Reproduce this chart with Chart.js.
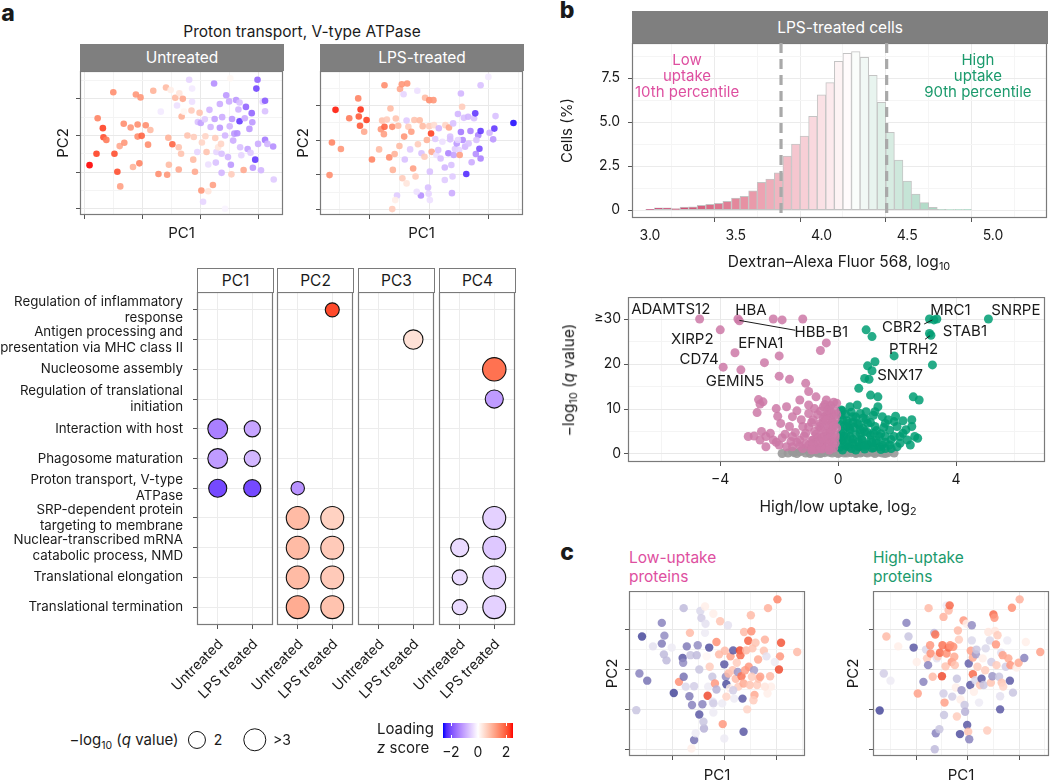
<!DOCTYPE html>
<html>
<head>
<meta charset="utf-8">
<title>Figure</title>
<script src="https://cdn.jsdelivr.net/npm/chart.js@4.4.1/dist/chart.umd.min.js"></script>
<style>
html,body{margin:0;padding:0;background:#fff;}
#page{position:relative;width:1050px;height:780px;overflow:hidden;font-family:Inter,"Noto Sans","DejaVu Sans",sans-serif;color:#1a1a1a;}
#page canvas{position:absolute;}
.t{position:absolute;transform:translate(-50%,-50%);white-space:nowrap;font-size:15px;line-height:1.15;}
.tl{position:absolute;transform:translate(0,-50%);white-space:nowrap;font-size:15px;line-height:1.15;}
.strip{position:absolute;display:flex;align-items:center;justify-content:center;font-size:15.5px;box-sizing:border-box;}
.grey{background:#7f7f7f;color:#fff;}
.white{background:#fff;color:#1a1a1a;border:1px solid #7a7a7a;}
.lab{position:absolute;font-weight:800;font-size:23px;transform:translate(-50%,-50%);}
sub{font-size:70%;vertical-align:-0.3em;line-height:0;}
.circ{position:absolute;border:1.2px solid #111;border-radius:50%;box-sizing:border-box;transform:translate(-50%,-50%);}
</style>
</head>
<body>
<div id="page"></div>
<script>
// ===================== DATA =====================
// Panel a (top): PCA of proteins, coloured by loading z score
const pcaUntreatedPC1 = [-9.2,-8.0,-7.8,-6.9,-6.8,-6.3,-5.1,-4.9,-4.4,-3.9,-4.0,-3.3,-3.2,-2.1,-1.7,-1.2,-0.9,-0.9,-0.4,-0.6,-0.2,0.5,0.9,1.3,1.8,2.7,3.1,4.0,4.2,4.4,4.5,4.8,5.1,5.6,5.9,6.2,6.3,6.7,6.9,6.6,6.2,7.1,7.7,8.0,8.5,8.5,8.4,8.8,8.7,9.0,9.5,9.8,10.0,10.2,9.4,10.1,10.4,10.7,10.8,11.0,11.3,11.3,11.5,11.7,12.1,12.3,12.4,12.5,12.6,12.7,13.0,13.3,13.3,13.5,13.6,13.7,14.2,14.4,14.7,14.9,15.0,15.1,15.2,15.3,15.4,15.6,15.8,16.1,16.3,16.5,16.7,16.8,17.0,17.4,17.6,17.8,18.1,18.4,18.6,18.8,18.9,19.0,19.4,19.6,19.8,19.9,20.4,20.7,21.1,21.1,21.1,21.5,16.7,22.5,22.6,14.2,13.6];
const pcaUntreatedPC2 = [-8.1,-5.0,4.7,2.0,-0.5,-1.2,11.8,-5.0,-9.9,-13.9,-2.9,3.2,-2.0,2.2,-8.6,11.2,3.0,-0.3,10.4,-7.6,-0.1,2.8,-2.5,1.5,12.2,-10.5,6.5,13.1,-10.7,-0.6,-8.0,12.4,-2.4,10.3,8.2,-3.2,11.5,5.2,10.0,-5.0,-9.3,6.5,0.0,15.2,12.8,9.2,6.8,-0.4,-6.6,-9.9,3.7,6.2,3.4,-1.9,-4.5,-15.0,-18.1,4.4,-0.2,-4.5,-7.9,-15.2,7.0,2.3,-13.5,14.2,4.5,-0.7,-7.4,-4.5,-3.2,8.6,2.1,-2.3,-10.2,5.0,0.0,11.0,-5.9,9.3,2.5,15.6,-8.0,-10.6,4.5,-1.4,0.5,9.7,0.6,7.1,3.9,-3.2,-5.4,-9.4,4.7,7.8,-3.7,1.8,-4.7,6.1,3.6,-8.8,-6.6,12.8,15.2,-2.3,-9.5,9.2,9.5,6.6,-1.2,-2.3,9.0,-3.0,-12.0,-20.0,-5.0];
const pcaUntreatedZ = [2.3,2.0,1.4,2.0,1.9,1.5,1.3,1.9,1.9,1.1,1.0,1.3,1.2,1.2,0.9,1.2,1.3,1.3,1.2,1.4,1.7,1.3,1.3,0.8,0.9,1.3,-0.2,0.8,1.2,0.9,0.8,0.2,1.7,0.8,-0.3,0.7,0.3,0.9,1.0,0.7,1.0,0.1,0.7,-0.4,-0.2,-0.3,0.6,0.6,0.8,1.0,-0.6,0.7,-0.9,0.5,-0.4,1.2,-0.4,-0.5,0.5,0.7,-0.3,0.3,-0.7,-0.7,1.1,-1.1,-0.9,0.6,-0.6,-0.4,0.3,-0.8,-1.0,0.5,-0.7,-0.8,-0.7,-1.0,-0.7,-0.8,-0.7,0.1,-1.0,0.6,-1.0,-0.8,-1.0,-1.0,-1.1,-0.7,-1.9,-0.6,-0.4,1.0,-0.8,-1.5,-0.9,-1.0,-0.5,-1.5,-1.0,-1.0,-1.9,-1.8,-1.5,-0.8,-0.7,-0.4,-1.6,-0.6,-1.3,-0.7,-0.6,-1.1,-0.5,-0.1,-0.6];

const pcaLpsPC1 = [-16.7,-16.3,-15.7,-14.8,-13.4,-11.9,-11.8,-11.5,-11.6,-10.9,-10.5,-9.6,-8.4,-8.1,-7.9,-7.6,-7.5,-7.5,-7.1,-6.7,-6.5,-6.2,-6.1,-5.8,-5.6,-5.4,-5.2,-5.0,-4.9,-4.6,-4.5,-4.3,-4.2,-4.1,-3.8,-3.7,-3.8,-3.5,-3.2,-3.0,-2.7,-2.5,-2.3,-2.0,-1.9,-1.6,-1.4,-1.3,-1.1,-0.8,-0.7,-0.4,-0.2,-0.1,0.0,0.0,0.1,0.3,0.4,0.7,0.8,1.0,1.2,1.6,1.9,2.2,2.6,2.7,3.2,3.3,3.5,3.7,3.8,4.0,4.1,4.3,4.6,4.8,5.0,5.1,5.3,5.3,5.6,5.5,5.8,6.0,6.2,6.5,6.6,6.9,7.1,7.5,7.7,7.8,8.2,8.4,8.6,8.6,8.6,9.9,10.1,10.7,10.9,11.1,14.1,7.9,3.9,2.6,1.5,4.8,3.5,0.1,-2.1,-6.2,-5.7];
const pcaLpsPC2 = [-10.1,-0.7,8.7,-2.6,6.3,12.0,6.8,8.8,4.1,2.4,5.8,-5.6,-2.7,3.1,5.6,1.7,15.8,3.8,5.9,-5.0,9.1,3.8,-8.6,-4.0,6.2,-16.0,4.1,-1.7,14.7,16.1,-11.0,13.2,1.0,-5.6,5.6,16.3,-12.5,3.8,-2.7,2.4,-8.2,5.8,-10.5,14.2,-1.2,5.7,-16.0,-3.8,4.0,-4.8,12.2,0.0,-13.7,-15.5,11.5,4.0,-9.1,1.9,-3.4,11.5,4.3,0.3,-4.3,3.4,-5.3,-0.5,-7.9,4.3,-3.8,3.6,0.2,-7.2,-15.3,4.8,-4.3,-2.6,-1.0,7.5,-2.9,-4.3,2.3,13.4,0.0,9.6,6.4,-1.9,-9.8,6.7,-1.0,2.6,-6.4,6.3,7.7,-4.0,1.4,-2.5,15.8,2.6,-5.3,18.2,2.1,0.2,3.3,6.9,4.9,0.0,-10.5,-11.5,-2.9,0.0,1.0,-17.3,-14.9,-19.9,-17.3];
const pcaLpsZ = [1.3,1.4,2.2,1.2,1.5,1.4,1.8,2.1,1.8,1.0,2.0,1.4,0.8,1.2,0.7,1.1,1.3,1.7,0.6,1.3,0.8,1.3,0.9,0.9,0.7,-0.5,0.8,0.8,1.0,1.2,0.6,-0.4,1.2,-0.6,-0.5,1.2,0.3,0.6,-0.5,1.1,1.1,0.7,0.6,-0.3,0.6,0.8,-1.1,-0.6,0.8,0.6,0.8,0.9,-0.6,-0.4,1.3,0.6,-0.6,2.0,1.0,1.2,0.4,-0.5,-0.3,-0.7,-0.6,-0.3,-0.7,0.5,-1.2,1.0,-0.6,-0.6,-0.8,-0.6,-0.9,-0.5,-1.0,-0.7,-0.4,1.1,-1.3,-0.7,-1.1,0.6,-0.6,-0.7,-2.0,-0.7,-0.6,-1.2,-0.8,-0.6,-1.9,-1.1,-1.2,-1.7,-0.6,-1.9,-1.2,-0.2,-0.7,-1.0,-1.9,-0.6,-2.2,-0.6,-0.5,-0.5,-0.6,-0.4,-0.6,-0.3,-0.3,0.6,0.2];

// Panel a (bottom): GO-term enrichment per principal component
const pcFacets = ['PC1','PC2','PC3','PC4'];
const conditionLabels = ['Untreated','LPS treated'];
const goTermLabels = [
  ['Regulation of inflammatory','response'],
  ['Antigen processing and','presentation via MHC class II'],
  'Nucleosome assembly',
  ['Regulation of translational','initiation'],
  'Interaction with host',
  'Phagosome maturation',
  ['Proton transport, V-type','ATPase'],
  ['SRP-dependent protein','targeting to membrane'],
  ['Nuclear-transcribed mRNA','catabolic process, NMD'],
  'Translational elongation',
  'Translational termination'
];
const enrichFacet = [0,0,0,0,0,0, 1,1,1,1,1,1,1,1,1,1, 2, 3,3,3,3,3,3,3,3,3];
const enrichTerm  = [4,4,5,5,6,6, 0,6,7,7,8,8,9,9,10,10, 1, 2,3,7,8,8,9,9,10,10];
const enrichCond  = [0,1,0,1,0,1, 1,0,0,1,0,1,0,1,0,1, 1, 1,1,1,0,1,0,1,0,1];
const enrichLogQ  = [2.4,1.6,2.4,1.6,2.0,1.8, 1.2,1.1,3.2,3.2,3.2,3.2,3.2,3.2,3.2,3.2, 2.3, 3.4,2.0,3.2,2.0,3.2,1.4,3.2,1.4,3.2];
const enrichZ     = [-1.4,-1.0,-1.1,-0.8,-2.0,-2.0, 2.2,-1.2,0.9,0.6,0.9,0.7,0.9,0.7,1.1,0.8, 0.4, 1.8,-1.1,-0.5,-0.4,-0.6,-0.4,-0.5,-0.4,-0.5];

// Panel b (top): histogram of dextran uptake, LPS-treated cells
const histBinCenters = [3.00,3.05,3.10,3.15,3.20,3.25,3.30,3.35,3.40,3.45,3.50,3.55,3.60,3.65,3.70,3.75,3.80,3.85,3.90,3.95,4.00,4.05,4.10,4.15,4.20,4.25,4.30,4.35,4.40,4.45,4.50,4.55,4.60,4.65,4.70,4.75,4.80,4.85];
const histCellsPct   = [0.04,0.13,0.13,0.08,0.17,0.19,0.27,0.32,0.38,0.49,0.68,0.78,1.10,1.57,1.76,2.12,3.07,3.75,4.20,5.32,6.55,7.24,8.45,8.90,9.00,8.67,7.65,6.12,4.41,2.84,1.65,0.91,0.42,0.15,0.04,0.02,0.02,0.02];
const lowUptakeCutoff = 3.764;
const highUptakeCutoff = 4.38;

// Panel b (bottom): volcano plot
const volcanoLowX = [-4.7,-4.0,-3.4,-3.35,-3.5,-3.9,-3.3,-2.5,-2.0,-2.2,-1.9,-1.2,-0.4,-0.6,-2.0,-1.65,-1.1,-1.0,-2.7,-2.55,-2.65,-2.1,-1.75,-1.4,-1.0,-0.75,-0.4,-0.05,-2.75,-2.6,-2.85,-3.05,-2.45,-2.2,-2.0,-1.55,-1.2,-1.65,-1.95,-0.85,-0.45,-0.15,-0.3,-0.65,-1.1,-1.3,-0.85,-0.5,-0.3,-0.1,-0.4,-0.75,-1.0,-1.55,-1.75,-2.45,-2.65,-0.25,-0.35,-0.25,-0.55,-0.85,-2.05,-1.55,-1.3,-1.0,-0.5,-0.8,-1.25,-0.3,-0.2,-0.4,-0.1,-0.5,-0.3,-0.6,-0.2,-0.8,-0.4,-0.1,-0.7,-0.3,-0.9,-0.5,-0.2,-1.1,-0.6,-0.35,-0.9,-0.15,-1.2,-0.55,-0.75,-0.15,-0.25,-0.45,-0.6,-0.35,-0.1,-0.7,-0.5,-0.2,-0.9,-0.6,-0.4,-1.0,-0.15,-0.5,-0.75,-1.15,-0.25,-0.6,-1.4,-0.4,-0.85,-0.1,-0.65,-1.6,-1.9,-2.3,-2.1,-1.45,-1.8,-0.3,-0.9,-1.3,-0.05,-0.05];
const volcanoLowY = [30,27.6,30,29.6,22.5,19.3,18.7,20.3,21.8,30,29.8,30,24.7,23.0,17.3,16.6,15.7,13.9,12.1,11.6,11.1,10.1,10.5,9.6,9.0,12.7,12.0,11.3,9.2,5.0,4.0,3.9,3.9,3.1,2.0,3.9,6.1,6.1,6.8,7.6,8.3,6.8,9.4,6.1,4.6,3.1,3.1,3.9,4.6,2.4,2.0,1.6,2.0,1.6,1.6,1.6,3.1,8.3,6.1,3.1,1.3,1.3,8.4,8.3,12.0,10.9,10.5,10.1,7.6,10.2,9.0,8.5,7.8,7.2,6.5,5.8,5.5,5.0,4.6,4.2,3.8,3.4,3.0,2.8,2.4,2.2,1.9,1.6,1.5,1.3,1.2,1.1,1.0,11.5,10.8,11.0,9.5,9.8,9.5,8.8,8.0,7.3,7.0,6.8,7.5,6.0,6.2,5.2,4.4,4.0,4.8,3.5,2.6,3.2,2.4,3.6,2.6,2.8,3.6,4.6,2.6,4.8,4.4,0.9,0.9,1.8,5.8,8.8];
const volcanoHighX = [5.1,3.1,3.25,3.35,3.15,3.1,3.2,1.9,0.95,1.15,1.25,1.0,1.15,0.9,1.05,0.7,1.1,1.35,2.55,2.75,2.5,2.6,2.7,1.95,1.7,1.35,1.25,0.15,0.4,0.65,0.75,0.5,0.95,1.5,1.6,1.75,2.0,2.1,2.2,2.35,1.4,1.2,0.75,0.4,0.15,0.5,0.95,1.3,1.75,2.0,0.3,0.65,0.85,1.25,1.6,0.15,1.1,1.4,1.9,0.1,0.35,0.8,1.15,2.45,2.5,1.9,0.4,0.7,1.0,0.1,0.3,0.5,0.2,0.7,0.4,0.9,0.15,0.6,1.1,0.3,0.8,1.3,0.1,0.5,1.0,1.5,0.25,0.7,1.2,0.45,0.9,1.6,0.05,0.1,0.25,0.45,0.6,0.85,1.1,0.35,0.55,0.75,1.0,1.3,1.45,0.2,0.5,0.7,1.15,1.6,1.8,2.1,0.3,0.9,1.45,1.8,0.15,0.6,2.3,1.55,0.95,1.2,2.2,0.05,0.05];
const volcanoHighY = [30,30,29.8,30,26.4,26.8,19.8,21.8,27.6,26.1,20.5,19.6,18.5,16.8,16.6,14.6,13.1,12.7,12.7,12.0,7.6,3.9,3.5,8.4,7.6,10.5,9.4,9.6,10.5,10.9,9.0,8.3,7.6,8.3,6.8,5.3,6.1,3.9,4.6,3.1,3.9,4.6,4.6,3.9,3.1,2.4,2.0,2.4,2.0,1.6,6.1,6.8,5.7,6.1,3.9,7.6,3.1,1.6,3.9,4.6,1.6,3.1,1.3,2.0,6.1,7.2,5.3,1.6,6.8,8.6,7.4,7.0,6.2,6.5,5.6,5.0,5.0,4.3,4.2,3.6,3.4,3.0,2.8,2.5,2.2,2.0,1.8,1.6,1.4,1.2,1.1,1.2,1.5,9.8,8.9,9.3,8.2,8.0,7.0,6.8,5.9,5.4,4.8,5.2,4.5,4.0,3.3,2.7,2.6,2.6,3.2,2.4,2.2,1.7,1.0,1.2,0.9,0.9,5.4,5.9,9.4,8.6,7.4,3.3,6.6];
const volcanoNsX = [-1.5,-1.3,-1.1,-1.0,-0.9,-0.8,-0.7,-0.6,-0.5,-0.45,-0.35,-0.25,-0.2,-0.1,0.0,0.05,0.15,0.25,0.3,0.4,0.5,0.6,0.7,0.8,0.9,1.0,1.1,1.2,1.35,1.5,1.7,-1.7,0.0,-0.6,0.6,-1.4,-1.2,-0.95,-0.75,-0.55,-0.4,-0.3,-0.15,-0.05,0.1,0.2,0.35,0.45,0.55,0.75,0.85,0.95,1.05,1.25,1.45,1.6,1.9,-1.9,-1.55];
const volcanoNsY = [0.3,0.5,0.2,0.7,0.4,0.9,0.2,0.6,1.0,0.3,0.7,1.1,0.2,0.6,1.0,0.3,0.7,1.0,0.2,0.6,0.9,0.3,0.7,0.4,0.8,0.2,0.5,0.3,0.4,0.2,0.3,0.2,0.1,0.1,0.1,0.1,0.8,0.1,0.5,0.3,0.9,0.4,0.9,0.3,0.5,0.2,0.9,0.3,0.6,0.2,0.6,0.3,0.8,0.1,0.5,0.1,0.2,0.1,0.6];
const volcanoGenes = ['ADAMTS12','HBA','HBB-B1','XIRP2','EFNA1','CD74','GEMIN5','MRC1','SNRPE','CBR2','STAB1','PTRH2','SNX17'];

// Panel c: PCA coloured by loading, low- and high-uptake proteins
const lowUptakePC1 = [-16.9,-16.3,-15.8,-14.8,-13.7,-12.0,-12.0,-11.5,-11.6,-11.1,-10.1,-9.7,-8.7,-8.0,-7.9,-7.8,-7.8,-7.4,-7.2,-6.7,-6.6,-6.5,-6.2,-5.8,-5.8,-5.5,-5.3,-5.1,-4.8,-4.8,-4.6,-4.4,-4.2,-3.9,-4.0,-3.7,-3.7,-3.4,-3.2,-3.1,-2.9,-2.8,-2.3,-2.1,-2.2,-2.1,-1.8,-1.5,-1.5,-1.0,-0.8,-0.4,-0.3,0.0,0.0,0.1,0.3,0.4,0.7,0.8,1.1,1.2,1.6,1.7,1.9,2.2,2.4,2.6,2.7,3.0,3.1,3.3,3.5,3.7,3.8,4.0,4.2,4.4,4.6,4.7,4.9,5.1,5.2,5.4,5.7,5.8,6.0,6.3,6.5,6.6,6.9,7.6,7.8,8.1,8.3,8.4,8.8,9.0,10.2,10.5,10.7,10.9,9.7,14.0,3.7,-6.3,-3.6,1.7,-2.1,0.4,5.6,7.8,5.3];
const lowUptakePC2 = [-10.2,-1.0,8.3,-2.8,5.8,11.7,6.5,8.5,3.8,2.3,5.5,-5.9,-3.1,2.9,1.7,-1.8,15.4,-4.3,5.8,-6.7,9.2,3.6,-8.9,-17.7,-4.2,-16.0,3.6,6.1,-11.3,0.0,14.7,12.9,-8.7,-14.8,-13.1,9.2,15.8,3.3,-6.6,-4.3,5.5,0.7,-1.8,14.0,-8.1,-10.8,-3.5,6.9,-5.0,3.8,12.1,-8.5,-13.7,-17.3,1.3,4.7,-1.8,-3.7,11.1,-1.0,-4.7,3.3,-0.2,4.8,-7.3,-2.3,1.7,-0.6,-4.3,4.8,3.6,-1.7,-7.3,-3.5,9.4,-0.2,4.8,-10.0,7.2,0.7,-3.9,13.6,9.6,5.3,-0.2,-6.4,6.7,-3.9,2.5,-2.3,-1.8,4.7,7.5,3.3,-6.0,15.4,-1.7,-4.3,17.6,0.0,3.3,6.7,1.9,4.4,-15.6,-19.8,11.5,-5.2,-8.5,-6.8,-7.7,-4.3,-1.8];
const lowUptakeZ = [-0.6,-1.3,-2.0,-1.5,-0.3,-1.3,-1.4,-1.2,-0.7,-0.7,-0.2,-2.0,1.3,-1.8,-1.2,-1.5,-0.7,-0.4,-1.4,-1.4,0.8,-0.6,-1.3,-1.5,-0.5,-0.2,-0.7,-1.2,-1.8,-0.6,-0.4,-0.5,-1.3,-0.8,-0.6,-0.2,0.2,0.1,2.0,-0.2,-1.9,0.6,-0.6,0.2,-0.3,-0.2,1.2,1.3,-0.8,0.8,0.7,-0.2,1.2,-0.2,-1.8,0.8,-1.2,-1.9,-0.3,0.8,0.2,1.1,0.7,-1.8,-0.2,0.8,0.6,-1.1,0.6,2.0,1.7,1.6,-1.8,1.0,0.8,1.1,0.8,0.5,1.8,1.2,0.7,0.8,1.3,0.7,-1.0,1.0,0.7,0.6,1.0,0.7,1.1,0.7,0.9,-0.3,0.2,0.9,0.8,0.2,1.4,2.0,1.2,1.9,-0.2,0.8,-1.8,0.2,-0.3,-0.5,-0.5,0.5,0.6,0.3,0.6];

const highUptakePC1 = [-17.1,-16.3,-15.8,-15.0,-13.5,-11.9,-11.5,-10.5,-9.7,-8.6,-8.1,-7.9,-7.7,-7.6,-7.3,-7.2,-6.8,-6.5,-6.3,-6.2,-6.4,-6.0,-5.8,-5.5,-5.4,-5.0,-4.9,-4.7,-4.7,-4.6,-4.5,-4.3,-4.1,-4.1,-3.7,-3.7,-3.5,-3.4,-3.1,-3.0,-2.8,-2.6,-2.5,-2.3,-2.1,-1.9,-1.7,-1.5,-1.4,-1.2,-0.8,-0.6,-0.5,-0.2,-0.1,0.1,0.2,0.3,0.5,0.6,0.8,0.8,1.0,1.0,1.2,1.5,1.6,1.7,1.9,2.2,2.4,2.7,2.9,3.1,3.4,3.5,3.8,4.0,4.3,4.5,4.6,4.8,5.0,5.2,5.3,5.5,5.6,5.8,6.1,6.3,6.5,6.6,6.8,6.9,7.4,7.7,7.9,8.2,8.3,8.6,8.8,9.5,9.9,10.1,11.0,11.3,14.1,6.3,-9.9,-2.1];
const highUptakePC2 = [-10.3,-1.0,8.3,-2.8,5.8,11.7,8.3,5.5,-6.0,-3.1,5.0,2.8,1.1,15.4,6.1,4.0,-1.8,9.2,8.8,-16.0,-20.0,2.8,3.3,-15.0,4.2,-1.7,6.1,-6.0,13.2,-11.4,-8.3,0.8,4.0,16.1,5.5,14.8,16.1,6.1,1.9,-6.8,5.7,3.2,1.1,-4.5,-2.3,9.8,7.5,-16.2,-7.5,-5.2,12.3,-8.9,-10.6,11.5,-13.9,-15.6,1.5,-17.5,-3.9,4.7,7.3,11.1,-1.2,3.0,-5.6,-2.7,3.8,5.0,0.7,-8.3,-3.9,-2.3,2.8,-3.9,-0.2,5.3,-15.3,9.4,7.3,-3.3,1.9,-1.7,13.8,13.0,9.7,6.3,1.1,8.6,-1.8,-10.0,4.2,-3.3,3.6,-4.3,0.7,7.3,2.8,-2.8,1.1,15.5,-5.8,0.5,1.7,17.6,2.9,6.9,4.4,-6.7,1.9,-11.8];
const highUptakeZ = [-2.0,-0.5,0.8,-0.2,0.2,-1.3,-0.6,-1.8,1.1,-1.3,-0.4,0.6,-1.3,0.8,1.2,1.3,0.8,-0.7,1.6,-1.3,-0.7,-0.3,0.6,-0.6,1.7,2.0,1.6,-0.5,0.9,-0.6,1.1,0.7,1.3,-0.2,1.7,0.8,1.7,1.3,1.2,-0.5,1.3,1.0,0.7,0.2,-0.6,0.8,0.6,-1.9,0.2,-1.1,1.2,-0.6,-0.8,0.2,-1.8,0.7,-1.7,-1.3,-1.8,1.1,-0.4,-1.2,1.7,1.0,0.2,-0.4,-1.0,-0.6,0.6,-0.2,0.7,-1.8,0.2,-0.6,0.6,-0.4,0.6,0.3,-0.4,0.7,-0.5,-1.1,1.7,1.2,0.3,1.2,0.6,0.6,-0.6,-1.8,-0.3,0.7,1.1,0.5,-0.5,-0.2,1.0,-1.8,1.2,1.3,-0.6,0.2,1.0,0.9,-1.3,0.2,1.1,-0.3,0.2,0.6];

// ===================== HELPERS =====================
const FONT = 'Inter, "Noto Sans", "DejaVu Sans", sans-serif';
Chart.defaults.font.family = FONT;
Chart.defaults.color = '#1a1a1a';
const page = document.getElementById('page');

function s2l(c){c/=255;return c<=0.04045?c/12.92:Math.pow((c+0.055)/1.055,2.4);}
function l2s(c){const v=c<=0.0031308?12.92*c:1.055*Math.pow(c,1/2.4)-0.055;return Math.round(Math.min(1,Math.max(0,v))*255);}
function rgb2lab(rgb){const R=s2l(rgb[0]),G=s2l(rgb[1]),B=s2l(rgb[2]);
  const X=(0.4124564*R+0.3575761*G+0.1804375*B)/0.95047,Y=0.2126729*R+0.7151522*G+0.0721750*B,Z=(0.0193339*R+0.1191920*G+0.9503041*B)/1.08883;
  const f=t=>t>216/24389?Math.cbrt(t):(24389/27*t+16)/116;
  const fx=f(X),fy=f(Y),fz=f(Z);return [116*fy-16,500*(fx-fy),200*(fy-fz)];}
function lab2rgb(lab){const fy=(lab[0]+16)/116,fx=fy+lab[1]/500,fz=fy-lab[2]/200;
  const fi=t=>{const t3=t*t*t;return t3>216/24389?t3:(116*t-16)/(24389/27);};
  const X=fi(fx)*0.95047,Y=fi(fy),Z=fi(fz)*1.08883;
  return [l2s(3.2404542*X-1.5371385*Y-0.4985314*Z),l2s(-0.9692660*X+1.8760108*Y+0.0415560*Z),l2s(0.0556434*X-0.2040259*Y+1.0572252*Z)];}
const WHITE_LAB = rgb2lab([255,255,255]);
function mixLab(a,b,t){return lab2rgb([a[0]+(b[0]-a[0])*t,a[1]+(b[1]-a[1])*t,a[2]+(b[2]-a[2])*t]);}
function diverging(low,high,lim){const L=rgb2lab(low),H=rgb2lab(high);
  return (v,a)=>{const t=Math.max(-1,Math.min(1,v/lim));const c=t<0?mixLab(WHITE_LAB,L,-t):mixLab(WHITE_LAB,H,t);
    return 'rgba('+c[0]+','+c[1]+','+c[2]+','+(a==null?1:a)+')';};}
const loadingColorA = diverging([0,0,255],[255,0,0],2.55);
const loadingColorPca = diverging([0,0,255],[255,0,0],2.25);
const loadingColorC = diverging([34,50,140],[230,30,15],2.3);
const uptakeColor = diverging([192,24,90],[0,158,115],1.17);

function mk(L,T,W,H){const c=document.createElement('canvas');c.width=W;c.height=H;c.style.left=L+'px';c.style.top=T+'px';c.style.width=W+'px';c.style.height=H+'px';page.appendChild(c);return c;}
function txt(html,x,y,style,cls){const d=document.createElement('div');d.className=cls||'t';d.innerHTML=html;d.style.left=x+'px';d.style.top=y+'px';if(style)Object.assign(d.style,style);page.appendChild(d);return d;}
function strip(text,x,y,w,h,cls){const d=document.createElement('div');d.className='strip '+cls;d.textContent=text;Object.assign(d.style,{left:x+'px',top:y+'px',width:w+'px',height:h+'px'});page.appendChild(d);return d;}
function isMaj(v,major){if(v==null)return false;const r=v/major;return Math.abs(r-Math.round(r))<1e-6;}

function linScale(o){
  const s={type:'linear',min:o.min,max:o.max,reverse:!!o.reverse,offset:false,
    afterBuildTicks:sc=>{let t=[];if(o.tickValues){t=o.tickValues.map(v=>({value:v}));}
      else{for(let k=Math.ceil((o.min-1e-9)/o.step);k*o.step<=o.max+1e-9;k++){t.push({value:Math.round(k*o.step*1e6)/1e6});}}
      sc.ticks=t;},
    afterFit:sc=>{if(o.axis==='x')sc.height=o.size;else sc.width=o.size;sc.paddingLeft=0;sc.paddingRight=0;sc.paddingTop=0;sc.paddingBottom=0;},
    ticks:{display:!!o.labels,font:{size:o.fontSize||14,lineHeight:o.lineHeight||1.2},color:'#1a1a1a',padding:(o.pad==null?6:o.pad),autoSkip:false,maxRotation:0,minRotation:0},
    grid:{color:c=>isMaj(c.tick&&c.tick.value,o.major)?(o.gMaj||'#e9e9e9'):(o.gMin||'#f4f4f4'),
      tickColor:c=>(o.noTicks||!isMaj(c.tick&&c.tick.value,o.major))?'rgba(0,0,0,0)':'#555',
      tickLength:o.tickLen||4,drawTicks:true,lineWidth:1},
    border:{display:false},
    title:o.title?{display:true,text:o.title,font:{size:15},color:'#1a1a1a',padding:o.titlePad||0}:{display:false}
  };
  if(o.labels){s.ticks.callback=v=>o.labels(v);}
  return s;
}
function baseOpts(L,T,W,H,cl,ct,cr,cb){
  return {pad:{left:0,top:ct-T,right:L+W-cr,bottom:0},yw:cl-L,xh:T+H-cb};
}

const framePlugin={id:'frame',afterDatasetsDraw(chart,args,opts){if(!opts||!opts.color)return;const a=chart.chartArea,ctx=chart.ctx;ctx.save();ctx.strokeStyle=opts.color;ctx.lineWidth=opts.width||1;ctx.strokeRect(Math.round(a.left)+0.5,Math.round(a.top)+0.5,Math.round(a.right-a.left)-1,Math.round(a.bottom-a.top)-1);ctx.restore();}};
const textPlugin={id:'textAnnot',afterDatasetsDraw(chart,args,opts){if(!opts||!opts.items)return;const ctx=chart.ctx,xs=chart.scales.x,ys=chart.scales.y;ctx.save();
  for(const it of opts.items){
    if(it.from){ctx.strokeStyle='#1a1a1a';ctx.lineWidth=1;ctx.beginPath();ctx.moveTo(xs.getPixelForValue(it.from[0]),ys.getPixelForValue(it.from[1]));ctx.lineTo(xs.getPixelForValue(it.to[0]),ys.getPixelForValue(it.to[1]));ctx.stroke();}
    ctx.font=(it.size||15)+'px '+FONT;ctx.fillStyle=it.color||'#1a1a1a';ctx.textAlign='center';ctx.textBaseline='middle';
    const px=xs.getPixelForValue(it.x),py=ys.getPixelForValue(it.y);
    it.lines.forEach((l,i)=>ctx.fillText(l,px,py+i*(it.lh||16)));
  }ctx.restore();}};
const vlinePlugin={id:'vlines',afterDatasetsDraw(chart,args,opts){if(!opts||!opts.values)return;const ctx=chart.ctx,a=chart.chartArea,xs=chart.scales.x;ctx.save();ctx.strokeStyle=opts.color;ctx.lineWidth=opts.width;ctx.setLineDash(opts.dash);
  for(const v of opts.values){const x=xs.getPixelForValue(v);ctx.beginPath();ctx.moveTo(x,a.top);ctx.lineTo(x,a.bottom);ctx.stroke();}ctx.restore();}};
const rotLabelPlugin={id:'rotLabels',afterDraw(chart,args,opts){if(!opts||!opts.labels)return;const ctx=chart.ctx,xs=chart.scales.x,a=chart.chartArea;ctx.save();
  ctx.font=opts.size+'px '+FONT;ctx.fillStyle='#1a1a1a';ctx.textAlign='right';ctx.textBaseline='middle';
  opts.labels.forEach((l,i)=>{const px=xs.getPixelForValue(i);ctx.save();ctx.translate(px+opts.dx,a.bottom+opts.dy);ctx.rotate(-Math.PI/4);ctx.fillText(l,0,0);ctx.restore();});
  ctx.restore();}};
Chart.register(framePlugin,textPlugin,vlinePlugin,rotLabelPlugin);

function commonOpts(b,scales,plugins){
  return {responsive:false,animation:false,devicePixelRatio:1,events:[],
    layout:{padding:b.pad,autoPadding:false},
    plugins:Object.assign({legend:{display:false},tooltip:{enabled:false},frame:{color:'#7a7a7a',width:1.2}},plugins||{}),
    scales:scales};
}
function zip(xs,ys){const n=Math.min(xs.length,ys.length);const out=[];for(let i=0;i<n;i++)out.push({x:xs[i],y:ys[i]});return out;}

// ===================== PANEL LETTERS & TITLES =====================
txt('a',8,13,null,'lab');
txt('b',567,10,null,'lab');
txt('c',567,552,null,'lab');
txt('Proton transport, V-type ATPase',302,32,{fontSize:'15.5px'});

// ===================== PANEL a: PCA scatters =====================
function pcaChart(L,T,W,H,cl,ct,cr,cb,xr,yr,pc1,pc2,z,colorFn,radius,ytPad,xtPad,alpha){
  const b=baseOpts(L,T,W,H,cl,ct,cr,cb);
  const n=Math.min(pc1.length,pc2.length,z.length);
  return new Chart(mk(L,T,W,H),{type:'scatter',
    data:{datasets:[{data:zip(pc1,pc2).slice(0,n),backgroundColor:z.slice(0,n).map(v=>colorFn(v,alpha)),pointRadius:radius,pointBorderWidth:0}]},
    options:commonOpts(b,{
      x:linScale({axis:'x',min:xr[0],max:xr[1],step:5,major:10,size:b.xh,title:'PC1',titlePad:{top:0,bottom:xtPad}}),
      y:linScale({axis:'y',min:yr[0],max:yr[1],step:5,major:10,size:b.yw,title:'PC2',titlePad:{top:ytPad,bottom:0}})
    })});
}
strip('Untreated',80,44,204,27,'grey');
strip('LPS-treated',320,44,204,27,'grey');
pcaChart(50,70,236,175, 80,71,283,215, [-10.85,24.2],[-21.7,17.6], pcaUntreatedPC1,pcaUntreatedPC2,pcaUntreatedZ, loadingColorPca,3.3,4,3,0.9);
pcaChart(290,70,236,175, 320,71,523,215, [-18.3,15.7],[-21.6,19.9], pcaLpsPC1,pcaLpsPC2,pcaLpsZ, loadingColorPca,3.3,4,3,0.9);

// ===================== PANEL a: enrichment bubbles =====================
const facetBoxes=[{L:0,W:276,cl:197,cr:273},{L:230,W:125,cl:277,cr:353},{L:311,W:125,cl:358,cr:434},{L:392,W:125,cl:439,cr:515}];
function qRadius(q){return 6.4*Math.sqrt(Math.min(q,3.35));}
facetBoxes.forEach((fb,fi)=>{
  const T=292,H=410;
  const b=baseOpts(fb.L,T,fb.W,H,fb.cl,292,fb.cr,625);
  strip(pcFacets[fi],fb.cl,268,fb.cr-fb.cl+1,25,'white');
  const pts=[],cols=[];
  for(let i=0;i<enrichFacet.length;i++){if(enrichFacet[i]!==fi)continue;pts.push({x:enrichCond[i],y:enrichTerm[i],r:qRadius(enrichLogQ[i])});cols.push(loadingColorA(enrichZ[i],1));}
  new Chart(mk(fb.L,T,fb.W,H),{type:'bubble',
    data:{datasets:[{data:pts,backgroundColor:cols,borderColor:'#111',borderWidth:1.1,clip:false}]},
    options:commonOpts(b,{
      x:linScale({axis:'x',min:-0.6,max:1.6,tickValues:[0,1],major:1,size:b.xh,gMaj:'#ececec'}),
      y:linScale({axis:'y',min:-0.6,max:10.6,reverse:true,tickValues:[0,1,2,3,4,5,6,7,8,9,10],major:1,size:b.yw,
        labels:fi===0?(v=>goTermLabels[v]):null,noTicks:fi!==0,fontSize:13.3,lineHeight:1.2,pad:10,gMaj:'#ececec'})
    },{rotLabels:{labels:conditionLabels,size:14,dx:3,dy:17}})});
});

// legends (bottom left)
txt('\u2212log<sub>10</sub> (<i>q</i> value)',124,740,{fontSize:'15px'});
const circ1=document.createElement('div');circ1.className='circ';Object.assign(circ1.style,{left:'197px',top:'740px',width:(2*qRadius(2))+'px',height:(2*qRadius(2))+'px'});page.appendChild(circ1);
txt('2',218,740,{fontSize:'14px'});
const circ2=document.createElement('div');circ2.className='circ';Object.assign(circ2.style,{left:'255px',top:'740px',width:(2*qRadius(3.35))+'px',height:(2*qRadius(3.35))+'px'});page.appendChild(circ2);
txt('&gt;3',282,740,{fontSize:'14px'});
txt('Loading',377,729,{fontSize:'15px'},'tl');
txt('<i>z</i> score',377,748,{fontSize:'15px'},'tl');
(function(){const stops=[];for(let k=0;k<=20;k++){const z=-2.55+5.1*k/20;stops.push(loadingColorA(z,1)+' '+(k*5)+'%');}
  const bar=document.createElement('div');Object.assign(bar.style,{position:'absolute',left:'443px',top:'723px',width:'70px',height:'15px',background:'linear-gradient(to right,'+stops.join(',')+')'});page.appendChild(bar);
  [451,478,506].forEach(x=>{const t1=document.createElement('div');Object.assign(t1.style,{position:'absolute',left:x+'px',top:'723px',width:'1px',height:'3px',background:'#fff'});page.appendChild(t1);
    const t2=document.createElement('div');Object.assign(t2.style,{position:'absolute',left:x+'px',top:'735px',width:'1px',height:'3px',background:'#fff'});page.appendChild(t2);});
  txt('\u22122',451,752,{fontSize:'14px'});txt('0',478,752,{fontSize:'14px'});txt('2',506,752,{fontSize:'14px'});
})();

// ===================== PANEL b: histogram =====================
strip('LPS-treated cells',632,11,416,33,'grey');
(function(){
  const L=558,T=43,W=492,H=230;
  const b=baseOpts(L,T,W,H,632,43,1047,218);
  new Chart(mk(L,T,W,H),{type:'bar',
    data:{datasets:[{data:zip(histBinCenters,histCellsPct),backgroundColor:histBinCenters.map(x=>uptakeColor(x-4.17,1)),borderColor:'#c4c4c4',borderWidth:1,borderSkipped:false,barPercentage:1,categoryPercentage:1}]},
    options:commonOpts(b,{
      x:linScale({axis:'x',min:2.895,max:5.315,step:0.25,major:0.5,size:b.xh,labels:v=>isMaj(v,0.5)?v.toFixed(1):'',pad:5,gMaj:'#ebebeb',gMin:'#f5f5f5'}),
      y:linScale({axis:'y',min:-0.45,max:9.49,step:1.25,major:2.5,size:b.yw,labels:v=>isMaj(v,2.5)?(v===0?'0':v.toFixed(1)):'',pad:8,title:'Cells (%)',titlePad:{top:0,bottom:0},gMaj:'#ebebeb',gMin:'#f5f5f5'})
    },{
      vlines:{values:[lowUptakeCutoff,highUptakeCutoff],color:'#a9a9a9',width:3.2,dash:[10,6]},
      textAnnot:{items:[
        {x:3.216,y:8.47,lines:['Low','uptake','10th percentile'],color:'#de4fa0',size:15,lh:16},
        {x:4.912,y:8.47,lines:['High','uptake','90th percentile'],color:'#1b9a6c',size:15,lh:16}
      ]}
    })});
})();
txt('Dextran\u2013Alexa Fluor 568, log<sub>10</sub>',839,262,{fontSize:'15.5px'});

// ===================== PANEL b: volcano =====================
(function(){
  const L=558,T=297,W=492,H=225;
  const b=baseOpts(L,T,W,H,628,297,1045,462);
  const g=volcanoGenes;
  new Chart(mk(L,T,W,H),{type:'scatter',
    data:{datasets:[
      {data:zip(volcanoLowX,volcanoLowY),backgroundColor:'rgba(204,121,167,0.85)',pointRadius:4.5,pointBorderWidth:0},
      {data:zip(volcanoHighX,volcanoHighY),backgroundColor:'rgba(0,158,115,0.85)',pointRadius:4.5,pointBorderWidth:0},
      {data:zip(volcanoNsX,volcanoNsY),backgroundColor:'rgba(153,153,153,0.9)',pointRadius:4.5,pointBorderWidth:0}
    ]},
    options:commonOpts(b,{
      x:linScale({axis:'x',min:-7.13,max:7.02,step:2,major:4,size:b.xh,labels:v=>isMaj(v,4)?String(v).replace('-','\u2212'):'',pad:5}),
      y:linScale({axis:'y',min:-1.78,max:34.9,step:5,major:10,size:b.yw,labels:v=>isMaj(v,10)?(v===30?'\u226530':String(v)):'',pad:3})
    },{
      textAnnot:{items:[
        {x:-5.68,y:32.2,lines:[g[0]]},
        {x:-2.96,y:31.8,lines:[g[1]]},
        {x:-0.57,y:27.0,lines:[g[2]],from:[-3.35,29.7],to:[-1.45,27.5]},
        {x:-4.95,y:25.5,lines:[g[3]]},
        {x:-2.62,y:24.6,lines:[g[4]]},
        {x:-4.72,y:20.9,lines:[g[5]]},
        {x:-3.5,y:16.1,lines:[g[6]]},
        {x:3.81,y:31.9,lines:[g[7]]},
        {x:6.03,y:31.9,lines:[g[8]]},
        {x:2.16,y:28.1,lines:[g[9]],from:[3.2,29.8],to:[2.92,28.9]},
        {x:4.3,y:27.2,lines:[g[10]]},
        {x:2.56,y:23.3,lines:[g[11]],from:[3.12,26.3],to:[2.95,25.5]},
        {x:2.1,y:17.4,lines:[g[12]]}
      ]}
    })});
})();
txt('\u2212log<sub>10</sub> (<i>q</i> value)',569,380,{fontSize:'15.5px',transform:'translate(-50%,-50%) rotate(-90deg)'});
txt('High/low uptake, log<sub>2</sub>',838,507,{fontSize:'15.5px'});

// ===================== PANEL c =====================
txt('Low-uptake<br>proteins',629,567,{fontSize:'15.5px',color:'#de4fa0',lineHeight:'19px'},'tl');
txt('High-uptake<br>proteins',873,567,{fontSize:'15.5px',color:'#1b9a6c',lineHeight:'19px'},'tl');
pcaChart(600,591,210,195, 629,591,805,756, [-18.3,15.5],[-21.7,19.7], lowUptakePC1,lowUptakePC2,lowUptakeZ, loadingColorC,4.2,3,2,0.85);
pcaChart(844,591,206,195, 873,591,1049,756, [-18.4,15.8],[-21.7,19.7], highUptakePC1,highUptakePC2,highUptakeZ, loadingColorC,4.2,0,2,0.85);
</script>
</body>
</html>
